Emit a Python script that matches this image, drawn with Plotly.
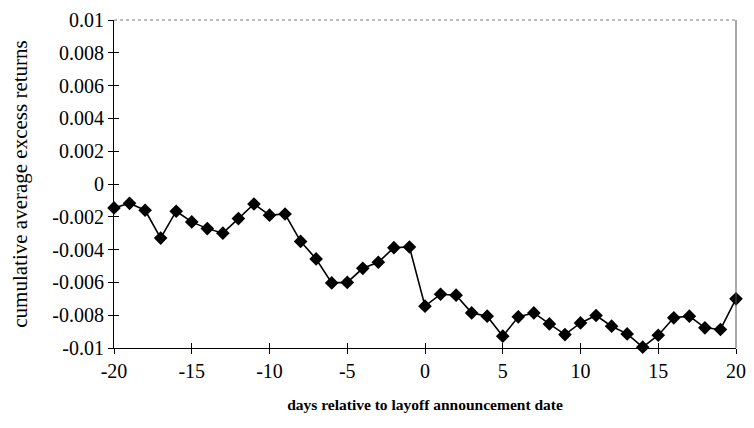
import plotly.graph_objects as go

days = list(range(-20, 21))
car = [-0.00146, -0.00118, -0.0016, -0.0033, -0.00166, -0.00231, -0.00272, -0.0030,
       -0.00211, -0.00122, -0.0019, -0.00183, -0.0035, -0.00457, -0.00603, -0.0060,
       -0.00514, -0.00477, -0.00388, -0.00384, -0.00745, -0.00672, -0.00678, -0.00786,
       -0.00806, -0.00928, -0.0081, -0.00786, -0.00853, -0.00918, -0.00847, -0.00802,
       -0.00867, -0.00914, -0.00995, -0.00922, -0.00816, -0.00806, -0.00877, -0.00887,
       -0.0070]

xticks = [-20, -15, -10, -5, 0, 5, 10, 15, 20]
xtext = ["-20", "-15", "-10", "-5", "0", "5", "10", "15", "20"]
yticks = [0.01, 0.008, 0.006, 0.004, 0.002, 0, -0.002, -0.004, -0.006, -0.008, -0.01]
ytext = ["0.01", "0.008", "0.006", "0.004", "0.002", "0", "-0.002", "-0.004", "-0.006", "-0.008", "-0.01"]

tickfont = dict(family="Liberation Serif", size=20, color="black")
ytitlefont = dict(family="Liberation Serif", size=21, color="black")
xtitlefont = dict(family="Liberation Serif", size=15.5, color="black", weight="bold")

fig = go.Figure()
fig.add_trace(go.Scatter(x=days, y=car, mode="lines+markers",
                         line=dict(color="black", width=1.6),
                         marker=dict(symbol="diamond", size=10.5, color="black"),
                         showlegend=False, cliponaxis=False))
fig.add_trace(go.Scatter(x=[], y=[], xaxis="x2", yaxis="y2", showlegend=False))

fig.update_layout(
    width=746, height=420,
    margin=dict(l=106, r=18, t=12, b=80),
    paper_bgcolor="white", plot_bgcolor="white",
    font=tickfont,
    xaxis=dict(range=[-20, 20], tickvals=xticks, ticktext=xtext, ticks="outside", ticklen=5,
               tickcolor="black", showline=True, linecolor="black", linewidth=1, showgrid=False,
               zeroline=False, tickfont=tickfont, automargin=False,
               title=dict(text="days relative to layoff announcement date", font=xtitlefont, standoff=18)),
    yaxis=dict(range=[-0.01, 0.01], tickvals=yticks, ticktext=ytext, ticks="outside", ticklen=5,
               tickcolor="black", showline=True, linecolor="black", linewidth=1, showgrid=False,
               zeroline=False, tickfont=tickfont, automargin=False,
               title=dict(text="cumulative average excess returns", font=ytitlefont, standoff=18)),
    xaxis2=dict(range=[-20, 20], overlaying="x", anchor="y2", side="bottom", tickvals=xticks,
                ticks="inside", ticklen=5, tickcolor="black", showticklabels=False,
                showline=False, showgrid=False, zeroline=False, automargin=False),
    yaxis2=dict(range=[-0.01, 0.01], overlaying="y", anchor="x2", side="left", tickvals=yticks,
                ticks="inside", ticklen=5, tickcolor="black", showticklabels=False,
                showline=False, showgrid=False, zeroline=False, automargin=False),
)
# frame on top (dotted) and right (thin)
fig.update_layout(shapes=[
    dict(type="line", xref="paper", yref="paper", x0=0, x1=1, y0=1, y1=1,
         line=dict(color="#777", width=1, dash="dot")),
    dict(type="line", xref="paper", yref="paper", x0=1, x1=1, y0=0, y1=1,
         line=dict(color="#555", width=1)),
])
fig.write_html("out.html")
